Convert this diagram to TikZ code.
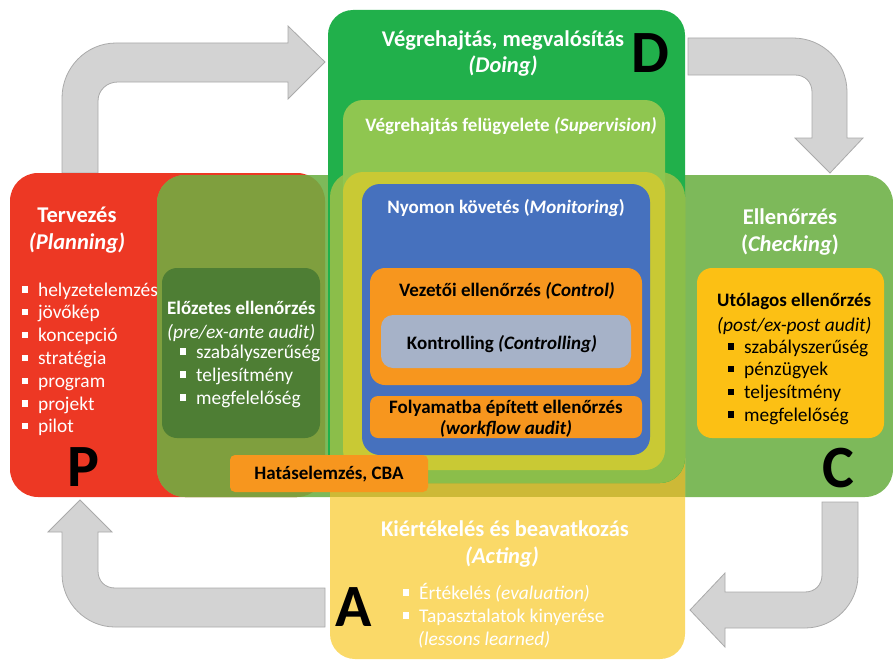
\documentclass[tikz,border=0pt]{standalone}
\usepackage{fontspec}
\setmainfont{Carlito}
\usepackage{tikz}
\definecolor{pred}{RGB}{237,56,36}
\definecolor{cgreen}{RGB}{125,185,90}
\definecolor{polive}{RGB}{127,159,62}
\definecolor{dgreen}{RGB}{33,176,75}
\definecolor{sgreen}{RGB}{143,198,80}
\definecolor{mgreen}{RGB}{139,190,74}
\definecolor{syellow}{RGB}{201,201,52}
\definecolor{cyellow}{RGB}{205,185,55}
\definecolor{ayellow}{RGB}{250,217,104}
\definecolor{mblue}{RGB}{70,113,190}
\definecolor{corange}{RGB}{247,150,30}
\definecolor{kgrey}{RGB}{166,178,200}
\definecolor{egreen}{RGB}{78,126,52}
\definecolor{uyellow}{RGB}{252,192,20}
\definecolor{argrey}{RGB}{211,211,211}
\definecolor{arline}{RGB}{170,170,170}
\newcommand{\sqbul}{\rule[0.18em]{0.32em}{0.32em}\hspace{0.5em}}

\begin{document}
\begin{tikzpicture}[x=1pt, y=-1pt,
    title/.style={font=\fontsize{22.5}{27}\selectfont\bfseries, text=white, anchor=base, inner sep=0pt},
    heading/.style={font=\fontsize{19}{23}\selectfont\bfseries, anchor=base, inner sep=0pt},
    item/.style={font=\fontsize{19.4}{23}\selectfont, anchor=base west, inner sep=0pt},
    letter/.style={font=\fontsize{60}{60}\selectfont\bfseries, inner sep=0pt},
    grarrow/.style={fill=argrey, draw=arline, line width=0.8pt}]
    \useasboundingbox (0,0) rectangle (893,661);

    % cycle arrows
    \path[grarrow] (62,173) -- (62,98) .. controls (62,68) and (86,43) .. (116,43) -- (288,43) -- (288,26)
        -- (325,62) -- (288,99) -- (288,82) -- (118,82) .. controls (107,82) and (98,90) .. (98,101) -- (98,173) -- cycle;
    \path[grarrow] (688,38) -- (793,38) .. controls (823,38) and (847,62) .. (847,92) -- (847,138) -- (863,138)
        -- (830,173) -- (795,138) -- (812,138) -- (812,92) .. controls (812,82) and (805,75) .. (795,75) -- (688,75) -- cycle;
    \path[grarrow] (822,502) -- (858,502) -- (858,575) .. controls (858,604) and (834,628) .. (805,628) -- (725,628)
        -- (725,647) -- (690,610) -- (725,573) -- (725,592) -- (805,592) .. controls (815,592) and (822,585) .. (822,575) -- cycle;
    \path[grarrow] (325,588) -- (325,627) -- (115,627) .. controls (86,627) and (62,603) .. (62,574) -- (62,532)
        -- (48,532) -- (80,500) -- (112,532) -- (98,532) -- (98,571) .. controls (98,581) and (105,588) .. (115,588) -- cycle;

    % P and C
    \fill[pred, rounded corners=28pt] (10,173) rectangle (325,497);
    \fill[cgreen, rounded corners=28pt] (157,175) rectangle (893,497);
    \begin{scope}
        \clip[rounded corners=28pt] (10,173) rectangle (325,497);
        \fill[polive, rounded corners=28pt] (157,175) rectangle (893,497);
    \end{scope}

    % A
    \fill[ayellow, rounded corners=25pt] (330,172) rectangle (685,659);
    \begin{scope}
        \clip[rounded corners=25pt] (330,172) rectangle (685,659);
        \fill[cyellow] (157,175) rectangle (893,497);
    \end{scope}

    % D
    \fill[dgreen, rounded corners=25pt] (328,10) rectangle (685,483);
    \begin{scope}
        \clip[rounded corners=25pt] (328,10) rectangle (685,483);
        \fill[mgreen, rounded corners=25pt] (330,172) rectangle (685,659);
    \end{scope}
    \fill[sgreen, rounded corners=20pt] (343,100) rectangle (665,470);
    \fill[syellow, rounded corners=20pt] (343,172) rectangle (665,470);

    % monitoring
    \fill[mblue, rounded corners=18pt] (362,184) rectangle (650,455);
    \fill[corange, rounded corners=15pt] (370,268) rectangle (642,385);
    \fill[kgrey, rounded corners=12pt] (381,315) rectangle (631,368);
    \fill[corange, rounded corners=8pt] (370,396) rectangle (642,438);

    % audits
    \fill[egreen, rounded corners=15pt] (162,268) rectangle (320,438);
    \fill[uyellow, rounded corners=15pt] (697,268) rectangle (884,438);
    \fill[corange, rounded corners=5pt] (230,455) rectangle (428,492);

    % planning text
    \node[title] (plan) at (77,222) {Tervezés};
    \node[title] (planen) at (77,249) {\itshape(Planning)};
    \foreach \txt [count=\i] in {helyzetelemzés,jövőkép,koncepció,stratégia,program,projekt,pilot}
        \node[item, text=white] (plan\i) at (22,{296+22.8*(\i-1)}) {\sqbul\txt};

    % doing text
    \node[title] (do) at (503,46) {Végrehajtás, megvalósítás};
    \node[title] (doen) at (503,72) {\itshape(Doing)};
    \node[heading, text=white] (sup) at (511,131) {Végrehajtás felügyelete \textit{(Supervision)}};
    \node[heading, text=white] (mon) at (506,213) {Nyomon követés (\textit{Monitoring})};
    \node[heading] (ctrl) at (507,296) {Vezetői ellenőrzés \textit{(Control)}};
    \node[heading] (kontr) at (502,349) {Kontrolling \textit{(Controlling)}};
    \node[heading] (flow) at (506,413) {Folyamatba épített ellenőrzés};
    \node[heading] (flowen) at (506,434) {\itshape(workflow audit)};
    \node[heading] (cba) at (329,479) {Hatáselemzés, CBA};

    % pre audit text
    \node[heading, anchor=base west, text=white] (pre) at (167,314) {Előzetes ellenőrzés};
    \node[item, text=white] (preen) at (167,338) {\itshape(pre/ex-ante audit)};
    \foreach \txt [count=\i] in {szabályszerűség,teljesítmény,megfelelőség}
        \node[item, text=white] (pre\i) at (180,{358+23*(\i-1)}) {\sqbul\txt};

    % checking text
    \node[title] (chk) at (790,224) {Ellenőrzés};
    \node[title] (chken) at (790,251) {(\textit{Checking})};
    \node[heading, anchor=base west] (post) at (717,306) {Utólagos ellenőrzés};
    \node[item] (posten) at (717,331) {\itshape(post/ex-post audit)};
    \foreach \txt [count=\i] in {szabályszerűség,pénzügyek,teljesítmény,megfelelőség}
        \node[item] (post\i) at (728,{353+22.7*(\i-1)}) {\sqbul\txt};

    % acting text
    \node[title] (act) at (505,536) {Kiértékelés és beavatkozás};
    \node[title] (acten) at (502,563) {\itshape(Acting)};
    \node[item, text=white] (act1) at (403,599) {\sqbul Értékelés \textit{(evaluation)}};
    \node[item, text=white] (act2) at (403,622) {\sqbul Tapasztalatok kinyerése};
    \node[item, text=white] (act3) at (418,645) {\itshape(lessons learned)};

    % phase letters
    \node[letter] (lp) at (83,467) {P};
    \node[letter] (ld) at (650,53) {D};
    \node[letter] (lc) at (838,468) {C};
    \node[letter] (la) at (354,607) {A};
\end{tikzpicture}
\end{document}
